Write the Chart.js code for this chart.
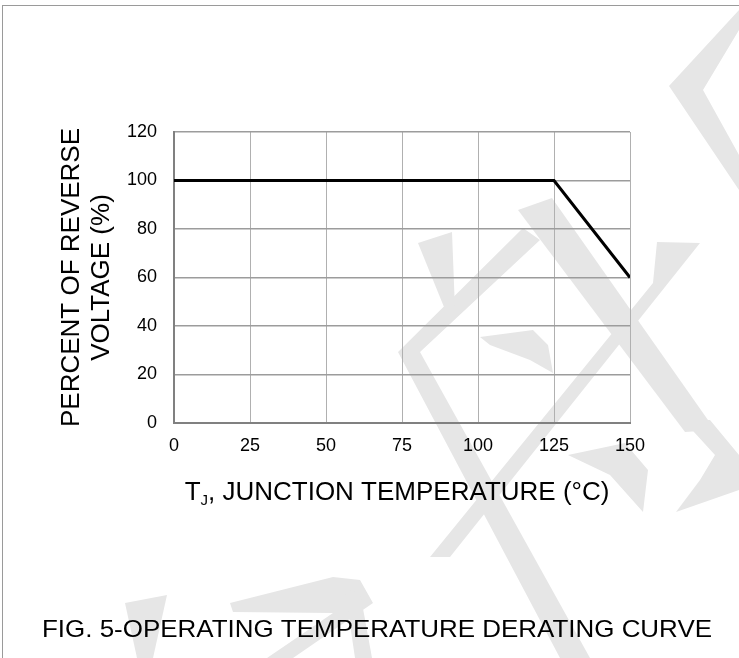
<!DOCTYPE html>
<html>
<head>
<meta charset="utf-8">
<script src="https://cdn.jsdelivr.net/npm/chart.js@4/dist/chart.umd.min.js"></script>
<style>
  html, body { margin: 0; padding: 0; background: #fff; }
  #wrap { position: relative; width: 739px; height: 658px; overflow: hidden; }
  #frame { position: absolute; left: 2px; top: 5px; right: 0; bottom: 0;
           border-left: 1.5px solid #9a9a9a; border-top: 1.5px solid #9a9a9a; pointer-events: none; }
</style>
</head>
<body>
<div id="wrap">
  <canvas id="derating"></canvas>
  <div id="frame"></div>
</div>
<script>
// chart data
const junctionTemp = [0, 125, 150];
const reversePct = [100, 100, 60];
const xTickValues = [0, 25, 50, 75, 100, 125, 150];
const yTickValues = [0, 20, 40, 60, 80, 100, 120];
const yTitle = ['PERCENT OF REVERSE', 'VOLTAGE (%)'];
const caption = 'FIG. 5-OPERATING TEMPERATURE DERATING CURVE';

const FONT = "'Liberation Sans', Arial, sans-serif";

// light grey watermark strokes behind the chart
const watermark = {
    id: 'watermark',
    beforeDraw(chart) {
        const ctx = chart.ctx;
        const shapes = [
            [[739,10],[669,86],[739,190],[739,155],[703,90],[739,30]],
            [[518,210],[552,198],[715,430],[685,432]],
            [[657,242],[700,243],[450,557],[430,557],[653,283]],
            [[523,228],[540,240],[420,352],[590,658],[560,658],[398,352]],
            [[480,337],[533,330],[548,345],[553,373],[530,360],[490,345]],
            [[418,243],[452,232],[455,310],[446,312]],
            [[125,603],[167,595],[153,658],[137,658]],
            [[230,603],[333,577],[360,580],[373,603],[293,658],[267,658],[333,613],[233,612]],
            [[345,590],[360,592],[372,658],[355,658]],
            [[568,455],[625,443],[648,470],[643,512],[610,475]],
            [[683,420],[710,420],[739,455],[739,490],[676,512],[700,480],[715,455]]
        ];
        ctx.save();
        ctx.fillStyle = '#e6e6e6';
        shapes.forEach(pts => {
            ctx.beginPath();
            pts.forEach((p, i) => i ? ctx.lineTo(p[0], p[1]) : ctx.moveTo(p[0], p[1]));
            ctx.closePath();
            ctx.fill();
        });
        ctx.restore();
    }
};

// x axis title with subscript J, plus figure caption
const titles = {
    id: 'titles',
    afterDraw(chart) {
        const ctx = chart.ctx;
        const area = chart.chartArea;
        ctx.save();
        ctx.fillStyle = '#000';
        ctx.textBaseline = 'alphabetic';

        const big = '26px ' + FONT, small = '15px ' + FONT;
        const rest = ', JUNCTION TEMPERATURE (°C)';
        ctx.font = big;
        const wT = ctx.measureText('T').width;
        const wRest = ctx.measureText(rest).width;
        ctx.font = small;
        const wJ = ctx.measureText('J').width;
        const total = wT + wJ + wRest;
        let x = (area.left + area.right) / 2 - 5 - total / 2;
        const base = 500;
        ctx.font = big;
        ctx.fillText('T', x, base);
        x += wT;
        ctx.font = small;
        ctx.fillText('J', x, base + 5);
        x += wJ;
        ctx.font = big;
        ctx.fillText(rest, x, base);

        // caption, stretched to the width it spans in the figure
        ctx.font = '24px ' + FONT;
        const wc = ctx.measureText(caption).width;
        ctx.translate(42, 637);
        ctx.scale(670 / wc, 1);
        ctx.fillText(caption, 0, 0);
        ctx.restore();
    }
};

const ctx = document.getElementById('derating').getContext('2d');
new Chart(ctx, {
    type: 'line',
    data: {
        datasets: [{
            data: junctionTemp.map((t, i) => ({ x: t, y: reversePct[i] })),
            borderColor: '#000',
            borderWidth: 3,
            pointRadius: 0,
            tension: 0,
            fill: false
        }]
    },
    options: {
        responsive: true,
        maintainAspectRatio: false,
        animation: false,
        layout: { padding: { top: 132, right: 109, bottom: 0, left: 0 } },
        plugins: { legend: { display: false }, tooltip: { enabled: false } },
        scales: {
            x: {
                type: 'linear',
                min: 0,
                max: 150,
                afterBuildTicks: axis => { axis.ticks = xTickValues.map(v => ({ value: v })); },
                afterFit: axis => { axis.height = 235; },
                grid: { color: '#b0b0b0', lineWidth: 1, drawTicks: false },
                border: { color: '#808080', width: 2 },
                ticks: { color: '#000', padding: 12, font: { family: FONT, size: 18 } }
            },
            y: {
                min: 0,
                max: 120,
                afterBuildTicks: axis => { axis.ticks = yTickValues.map(v => ({ value: v })); },
                afterFit: axis => { axis.width = 174; },
                grid: { color: '#9c9c9c', lineWidth: 1.5, drawTicks: false },
                border: { color: '#808080', width: 2 },
                ticks: { color: '#000', padding: 17, font: { family: FONT, size: 18 } },
                title: {
                    display: true,
                    text: yTitle,
                    color: '#000',
                    padding: { top: 57, bottom: 0 },
                    font: { family: FONT, size: 26, lineHeight: 1.16 }
                }
            }
        }
    },
    plugins: [watermark, titles]
});
</script>
</body>
</html>
